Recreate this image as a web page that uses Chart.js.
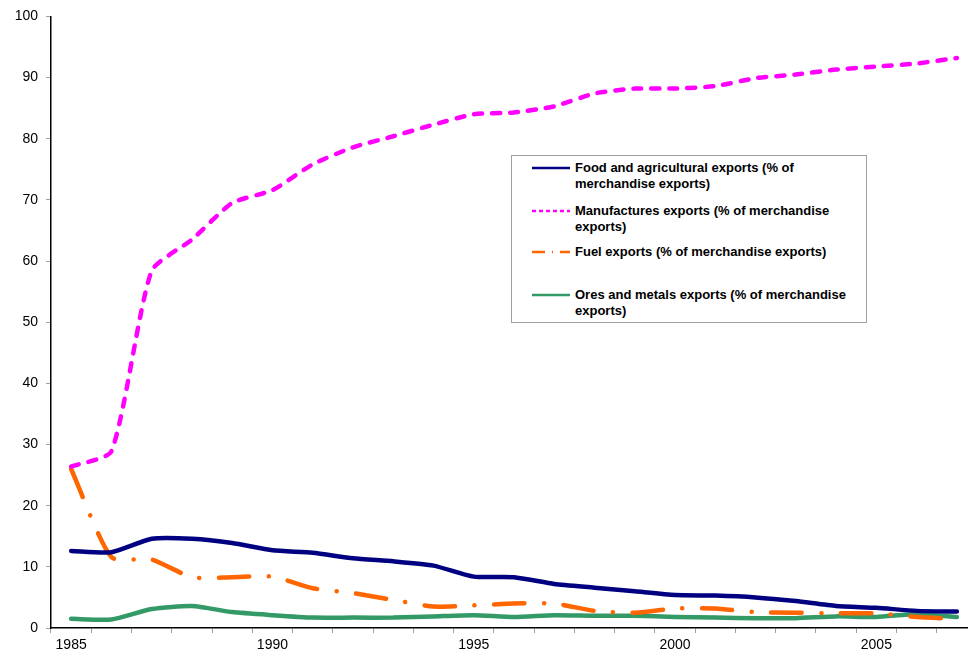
<!DOCTYPE html>
<html>
<head>
<meta charset="utf-8">
<script src="https://cdn.jsdelivr.net/npm/chart.js@4.4.1/dist/chart.umd.min.js"></script>
<style>
  html, body { margin:0; padding:0; background:#fff; overflow:hidden; }
  #wrap { position:relative; width:968px; height:665px; overflow:hidden; }
  #legend { position:absolute; left:511px; top:155px; width:354px; height:166px; border:1px solid #a0a0a0; background:#fff;
            font-family:"Liberation Sans", Arial, sans-serif; font-weight:bold; font-size:13px; line-height:16px; color:#000; }
  .row { position:absolute; left:18px; }
  .row svg { position:absolute; left:0; top:0; }
  .row span { position:absolute; left:45px; top:0; white-space:nowrap; }
</style>
</head>
<body>
<div id="wrap">
  <canvas id="chart" width="977" height="665"></canvas>
  <div id="legend"></div>
</div>
<script>
// World Bank style export shares, 1985-2007
const years = ['1985','1986','1987','1988','1989','1990','1991','1992','1993','1994','1995','1996',
               '1997','1998','1999','2000','2001','2002','2003','2004','2005','2006','2007'];
const foodAgri = [12.6,12.4,14.6,14.6,13.9,12.7,12.3,11.4,10.9,10.2,8.4,8.3,7.2,6.6,6.0,5.4,5.3,5.0,4.4,3.6,3.3,2.8,2.7];
const manufactures = [26.4,28.9,58.4,63.5,69.5,71.6,75.8,78.6,80.4,82.3,84.0,84.3,85.3,87.4,88.2,88.2,88.6,89.9,90.5,91.3,91.8,92.3,93.2];
const fuel = [26.0,11.6,11.2,8.3,8.3,8.4,6.5,5.7,4.6,3.5,3.7,4.0,4.0,2.8,2.5,3.2,3.2,2.6,2.5,2.4,2.4,1.8,1.5];
const oresMetals = [1.5,1.4,3.1,3.6,2.6,2.1,1.7,1.7,1.7,1.9,2.1,1.8,2.1,2.0,2.0,1.8,1.7,1.6,1.6,1.9,1.8,2.3,1.8];
const yTicks = [0,10,20,30,40,50,60,70,80,90,100];

const series = [
  { label:'Food and agricultural exports (% of merchandise exports)', lines:['Food and agricultural exports (% of','merchandise exports)'],
    data:foodAgri, color:'#000080', dash:[], legDash:'none', top:4 },
  { label:'Manufactures exports (% of merchandise exports)', lines:['Manufactures exports (% of merchandise','exports)'],
    data:manufactures, color:'#ff00ff', dash:[8,10], legDash:'4,3', top:47 },
  { label:'Fuel exports (% of merchandise exports)', lines:['Fuel exports (% of merchandise exports)'],
    data:fuel, color:'#ff6600', dash:[30.5,19.5,0.1,19.5], legDash:'13,7,1,7', top:88 },
  { label:'Ores and metals exports (% of merchandise exports)', lines:['Ores and metals exports (% of merchandise','exports)'],
    data:oresMetals, color:'#339966', dash:[], legDash:'none', top:131 }
];

const font = { family:'"Liberation Sans", Arial, sans-serif', size:14 };

new Chart(document.getElementById('chart'), {
  type:'line',
  data:{
    labels:years,
    datasets:series.map(s => ({
      label:s.label, data:s.data, borderColor:s.color, backgroundColor:s.color,
      borderWidth:4.5, borderDash:s.dash, borderCapStyle:'round', borderJoinStyle:'round',
      pointRadius:0, tension:0.2, fill:false
    }))
  },
  options:{
    responsive:false, animation:false,
    layout:{ padding:{ top:15, right:0, left:0, bottom:0 } },
    plugins:{ legend:{ display:false }, tooltip:{ enabled:false } },
    scales:{
      x:{
        offset:true,
        grid:{ offset:true, drawOnChartArea:false, tickLength:5, color:'#a0a0a0' },
        border:{ color:'#000', width:1.5 },
        ticks:{ autoSkip:false, maxRotation:0, color:'#000', font:font, padding:4,
                callback:(v,i) => i % 5 === 0 ? years[i] : '' },
        afterFit:a => { a.height = 37; }
      },
      y:{
        min:0, max:100,
        afterBuildTicks:a => { a.ticks = yTicks.map(v => ({ value:v })); },
        grid:{ drawOnChartArea:false, tickLength:5, color:'#a0a0a0' },
        border:{ color:'#000', width:1.5 },
        ticks:{ color:'#000', font:font, padding:8 },
        afterFit:a => { a.width = 51; }
      }
    }
  }
});

// HTML legend inside the plot
const legend = document.getElementById('legend');
series.forEach(s => {
  const row = document.createElement('div');
  row.className = 'row';
  row.style.top = s.top + 'px';
  const svg = '<svg width="42" height="16"><line x1="2" y1="8" x2="40" y2="8" stroke="' + s.color +
    '" stroke-width="2.5" stroke-dasharray="' + s.legDash + '"/></svg>';
  row.innerHTML = svg + '<span>' + s.lines.join('<br>') + '</span>';
  legend.appendChild(row);
});
</script>
</body>
</html>
